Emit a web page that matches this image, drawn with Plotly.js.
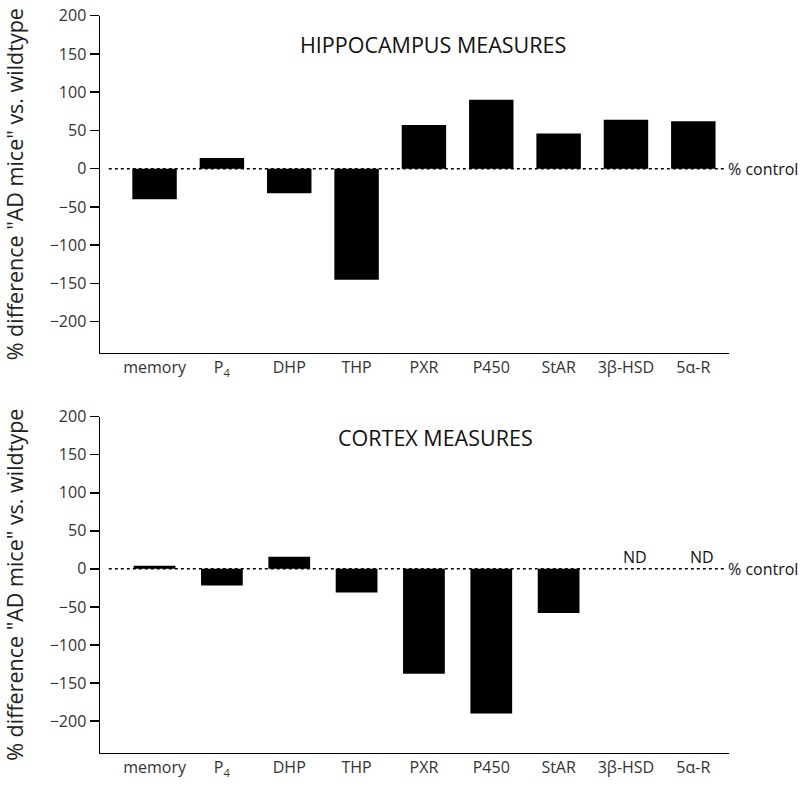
<!DOCTYPE html>
<html>
<head>
<meta charset="utf-8">
<script src="https://cdn.plot.ly/plotly-3.0.1.min.js"></script>
<style>
  body { margin: 0; background: #fff; }
  #plot { width: 800px; height: 788px; }
</style>
</head>
<body>
<div id="plot"></div>
<script>
const categories = ['memory', 'P<sub>4</sub>', 'DHP', 'THP', 'PXR', 'P450', 'StAR', '3β-HSD', '5α-R'];
const hippocampusValues = [-40, 14, -32, -145, 57, 90, 46, 64, 62];
const cortexValues = [4, -22, 16, -31, -138, -190, -58, null, null];
const cortexNotDetected = ['3β-HSD', '5α-R'];
const yTicks = [-200, -150, -100, -50, 0, 50, 100, 150, 200];

const fontFamily = '"Open Sans", Lato, sans-serif';
const yTitle = '% difference "AD mice" vs. wildtype';

const traces = [
    {
        type: 'bar',
        x: categories,
        y: hippocampusValues,
        xaxis: 'x',
        yaxis: 'y',
        width: 0.66,
        marker: { color: '#000' },
        hoverinfo: 'x+y'
    },
    {
        type: 'bar',
        x: categories,
        y: cortexValues,
        xaxis: 'x2',
        yaxis: 'y2',
        width: 0.62,
        marker: { color: '#000' },
        hoverinfo: 'x+y'
    }
];

function xAxis(anchor) {
    return {
        anchor: anchor,
        type: 'category',
        range: [-0.81, 8.53],
        showline: true,
        linecolor: '#000',
        linewidth: 1.5,
        ticks: '',
        showgrid: false,
        zeroline: false,
        tickfont: { family: fontFamily, size: 16, color: '#333' }
    };
}

function yAxis(anchor, domain, range) {
    return {
        anchor: anchor,
        domain: domain,
        range: range,
        tickvals: yTicks,
        ticks: 'outside',
        ticklen: 9,
        tickwidth: 1.5,
        tickcolor: '#000',
        showline: true,
        linecolor: '#000',
        linewidth: 1.5,
        showgrid: false,
        zeroline: false,
        tickfont: { family: fontFamily, size: 16, color: '#333' },
        title: { text: yTitle, standoff: 22, font: { family: fontFamily, size: 21.5, color: '#222' } }
    };
}

// dotted "% control" reference line for each panel
function controlLine(xref, yref) {
    return {
        type: 'line',
        xref: xref + ' domain',
        yref: yref,
        x0: 0.014, x1: 0.995,
        y0: 0, y1: 0,
        line: { color: '#000', width: 1.5, dash: 'dot' }
    };
}

const annotations = [
    {
        text: 'HIPPOCAMPUS MEASURES', xref: 'paper', yref: 'paper',
        x: 0.53, y: 1 - 28 / 788, showarrow: false,
        font: { family: fontFamily, size: 21.5, color: '#111' }
    },
    {
        text: 'CORTEX MEASURES', xref: 'paper', yref: 'paper',
        x: 0.534, y: 1 - 437 / 788, showarrow: false,
        font: { family: fontFamily, size: 21.5, color: '#111' }
    },
    {
        text: '% control', xref: 'paper', yref: 'y',
        x: 0.995, y: 0, xanchor: 'left', showarrow: false,
        font: { family: fontFamily, size: 16, color: '#111' }
    },
    {
        text: '% control', xref: 'paper', yref: 'y2',
        x: 0.995, y: 0, xanchor: 'left', showarrow: false,
        font: { family: fontFamily, size: 16, color: '#111' }
    }
];

cortexNotDetected.forEach(cat => {
    annotations.push({
        text: 'ND', xref: 'x2', yref: 'y2',
        x: cat, y: 15, xshift: 9, showarrow: false,
        font: { family: fontFamily, size: 16, color: '#111' }
    });
});

const layout = {
    width: 800,
    height: 788,
    margin: { l: 100, r: 71, t: 0, b: 0 },
    paper_bgcolor: '#fff',
    plot_bgcolor: '#fff',
    showlegend: false,
    font: { family: fontFamily },
    xaxis: xAxis('y'),
    yaxis: yAxis('x', [1 - 352.7 / 788, 1 - 15.7 / 788], [-240.5, 200]),
    xaxis2: xAxis('y2'),
    yaxis2: yAxis('x2', [1 - 752.7 / 788, 1 - 416.7 / 788], [-241.6, 200]),
    shapes: [controlLine('x', 'y'), controlLine('x2', 'y2')],
    annotations: annotations
};

Plotly.newPlot('plot', traces, layout, { displayModeBar: false, staticPlot: true });
</script>
</body>
</html>
